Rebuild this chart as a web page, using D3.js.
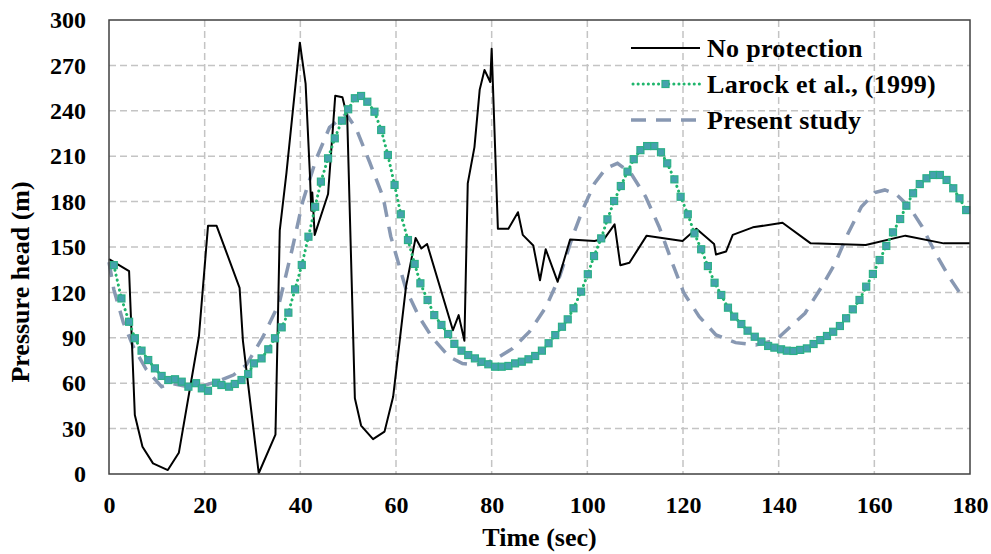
<!DOCTYPE html>
<html>
<head>
<meta charset="utf-8">
<script src="https://cdn.jsdelivr.net/npm/d3@7"></script>
<style>
  body { margin: 0; background: #fff; }
  text { font-family: "Liberation Serif", "Times New Roman", serif; font-weight: bold; fill: #000; }
</style>
</head>
<body>
<svg id="chart" width="991" height="554"></svg>
<script>
// axis ticks
var xTicks = [0, 20, 40, 60, 80, 100, 120, 140, 160, 180];
var yTicks = [0, 30, 60, 90, 120, 150, 180, 210, 240, 270, 300];

// No protection
var noProtTime = [0, 4.2, 5.4, 7, 9.2, 12.3, 14.6, 18.8, 20.7, 22.5, 27.3, 28, 31.3, 34.8, 35.7, 37.1,
  39.9, 41.1, 42.0, 42.3, 42.5, 43.0, 45.8, 47.3, 48.8, 49.8, 51.4, 52.7, 55.2, 57.6, 59.4, 62.1,
  64.1, 65.3, 66.5, 71.9, 73.1, 74.3, 75.0, 76.4, 77.5, 78.5, 79.7, 80.0, 81.3, 83.5, 85.5, 86.5,
  88.7, 90.1, 91.3, 93.8, 96.4, 101.5, 103.6, 105.7, 106.9, 108.8, 112.4, 119.9, 122.8, 126.5,
  126.9, 129, 130.4, 134.6, 140.8, 146.7, 158.2, 166.5, 174.5, 180];
var noProtHead = [142, 134, 39, 18, 7, 2.6, 14, 91, 164, 164, 123, 88, 0.5, 26, 161, 199,
  285, 258, 198, 174, 186, 158, 185, 250, 249, 236, 50, 32, 23, 28, 51, 124,
  156, 149, 152, 95, 105, 88, 192, 216, 254, 267, 259, 281, 162, 162, 173, 158,
  151, 128, 148.5, 127, 155, 154, 155.7, 165, 138, 139.6, 157.5, 154, 162, 152,
  145, 147, 158, 163, 166, 152.4, 151.3, 157.5, 152.4, 152.4];

// Larock et al., (1999)
var larockTime = [1.0, 2.6, 4.2, 5.4, 6.8, 8.2, 9.6, 11.0, 12.4, 13.8, 15.2, 16.6, 18.2, 19.4, 20.7,
  22.4, 23.5, 25.1, 26.3, 27.7, 29.1, 30.3, 31.9, 33.3, 34.7, 36.1, 37.5, 38.9, 40.3, 41.7, 43.1,
  44.3, 45.8, 47.2, 48.7, 50.0, 51.4, 52.7, 54.0, 55.5, 56.9, 58.3, 59.7, 61.0, 62.5, 63.9, 65.1,
  66.6, 68.0, 69.5, 70.9, 72.2, 73.7, 75.1, 76.5, 77.9, 79.3, 80.7, 82.1, 83.5, 84.9, 86.3, 87.7,
  89.1, 90.5, 91.9, 93.3, 94.7, 95.9, 97.1, 98.7, 100.1, 101.4, 102.9, 104.2, 105.6, 107.0, 108.4,
  109.7, 111.1, 112.5, 114.0, 115.4, 116.7, 118.2, 119.5, 121.0, 122.4, 123.8, 125.2, 126.6,
  128.0, 129.4, 130.7, 132.2, 133.5, 135.0, 136.4, 137.8, 139.1, 140.5, 141.7, 143.1, 144.5,
  145.9, 147.3, 148.7, 150.1, 151.4, 152.8, 154.1, 155.5, 156.9, 158.3, 159.7, 161.1, 162.5,
  163.9, 165.4, 166.7, 168.1, 169.5, 170.9, 172.3, 173.7, 175.1, 176.5, 177.8, 179.2];
var larockHead = [138, 116, 100.6, 89.7, 81.5, 75.3, 69.8, 64.8, 62.1, 62.6, 61, 57.7, 60, 56.6, 55,
  60.3, 58.8, 57.7, 59.5, 62.1, 66.1, 73.1, 76.4, 82.4, 89.7, 96.9, 106.6, 122, 138.1, 156.8, 176.6,
  193.2, 208.6, 221.8, 233.5, 241, 248.3, 249.8, 246, 239.4, 227.3, 210.8, 191, 171.6, 154.6, 138.8, 126,
  115, 105, 98.5, 92.5, 86, 81.5, 78.6, 76.4, 74.2, 72.5, 70.9, 70.9, 71.4, 73.1, 74.2, 75.8,
  78, 81.5, 86.4, 91.8, 97.3, 102.2, 109.5, 120.5, 132, 144, 155.7, 168.3, 180.4, 190.3, 199.8,
  208, 214, 216.7, 216.7, 212.6, 205.3, 194.7, 183.2, 171.6, 159, 148.5, 137.4, 126.4,
  118.3, 109.9, 104, 99.1, 94.7, 90.7, 87.4, 84.6, 83.5, 82.4, 81.5, 81.3, 82,
  83, 85.9, 88.5, 91.2, 94, 97.8, 102.9, 108.8, 115, 123.8, 132.2, 141.4, 150.7,
  159.7, 168.5, 177.3, 185.5, 191.6, 195.4, 197.6, 197.6, 194.3, 188.8, 182.2, 174.4];

// Present study
var presentTime = [0, 1, 3, 5.1, 7.8, 11, 13.1, 16, 19, 22.5, 26, 28.7, 32.2, 35.6, 38.4, 40.5,
  43.3, 46.1, 49.6, 51.7, 54.5, 57.3, 58.9, 62.1, 64.8, 67.6, 71.1, 73.9, 76.5, 78.8, 81.6, 84.4,
  87.9, 91.4, 94.2, 96.9, 99, 101.5, 103.9, 106.3, 109.1, 112.2, 115, 117.8, 120.2, 123.4, 126.9,
  131, 135.2, 139.4, 142.1, 145.5, 149, 151.8, 154.5, 157.3, 160.1, 162.2, 164.5, 167.3, 170,
  172.8, 175.6, 178.4];
var presentHead = [140, 122, 100, 84, 69, 57.7, 59.9, 58, 57.7, 61, 65.4, 72, 90.7, 113, 150, 180,
  208, 229, 238, 228, 206, 183, 157, 122, 104, 90, 77.5, 73, 72, 73, 77.5, 83,
  94, 110.6, 130.4, 156.8, 174.4, 192, 202, 205.3, 198.7, 183.2, 163.4, 139.2, 119.4, 104, 91.9,
  86.8, 85.2, 88.5, 96.3, 106.2, 123.8, 139.2, 159, 176.6, 185.9, 187.7, 185, 176.6, 163.4,
  145.8, 130.4, 117.2];

var legendNames = ["No protection", "Larock et al., (1999)", "Present study"];

var margin = { top: 20, right: 21, bottom: 80, left: 109 },
  width = 991 - margin.left - margin.right,
  height = 554 - margin.top - margin.bottom;

var x = d3.scaleLinear().domain([0, 180]).range([0, width]);
var y = d3.scaleLinear().domain([0, 300]).range([height, 0]);

var svg = d3.select("#chart")
  .append("g")
  .attr("transform", `translate(${margin.left}, ${margin.top})`);

// dashed grid
svg.append("g")
  .selectAll("line")
  .data(xTicks.slice(1, -1))
  .enter()
  .append("line")
  .attr("x1", (d) => x(d))
  .attr("x2", (d) => x(d))
  .attr("y1", 0)
  .attr("y2", height)
  .attr("stroke", "#c4c4c4")
  .attr("stroke-width", 1.5)
  .attr("stroke-dasharray", "7,4");
svg.append("g")
  .selectAll("line")
  .data(yTicks.slice(1, -1))
  .enter()
  .append("line")
  .attr("x1", 0)
  .attr("x2", width)
  .attr("y1", (d) => y(d))
  .attr("y2", (d) => y(d))
  .attr("stroke", "#c4c4c4")
  .attr("stroke-width", 1.5)
  .attr("stroke-dasharray", "7,4");

// axes (labels only, frame drawn below)
var xAxis = svg.append("g")
  .attr("transform", "translate(0," + height + ")")
  .call(d3.axisBottom(x).tickValues(xTicks).tickSize(0).tickPadding(22));
var yAxis = svg.append("g")
  .call(d3.axisLeft(y).tickValues(yTicks).tickSize(0).tickPadding(23));
[xAxis, yAxis].forEach(function (a) {
  a.select(".domain").remove();
  a.selectAll("text")
    .style("font-family", '"Liberation Serif", serif')
    .style("font-weight", "bold")
    .style("font-size", "24px")
    .attr("fill", "#000");
});

var lineGenerator = d3.line()
  .x((d) => x(d[0]))
  .y((d) => y(d[1]));

var presentData = d3.zip(presentTime, presentHead);
var larockData = d3.zip(larockTime, larockHead);
var noProtData = d3.zip(noProtTime, noProtHead);

svg.append("path")
  .datum(presentData)
  .attr("fill", "none")
  .attr("stroke", "#8898b2")
  .attr("stroke-width", 3.5)
  .attr("stroke-dasharray", "15,10")
  .attr("d", lineGenerator);

svg.append("path")
  .datum(noProtData)
  .attr("fill", "none")
  .attr("stroke", "#000")
  .attr("stroke-width", 2)
  .attr("stroke-linejoin", "round")
  .attr("d", lineGenerator);

svg.append("path")
  .datum(larockData)
  .attr("fill", "none")
  .attr("stroke", "#1fb56c")
  .attr("stroke-width", 3)
  .attr("stroke-linecap", "round")
  .attr("stroke-dasharray", "0.1,5")
  .attr("d", lineGenerator);

svg.append("g")
  .selectAll("rect")
  .data(larockData)
  .enter()
  .append("rect")
  .attr("x", (d) => x(d[0]) - 3.5)
  .attr("y", (d) => y(d[1]) - 3.5)
  .attr("width", 7)
  .attr("height", 7)
  .attr("fill", "#45a2ae")
  .attr("stroke", "#2bb087")
  .attr("stroke-width", 1.2);

// frame
svg.append("rect")
  .attr("width", width)
  .attr("height", height)
  .attr("fill", "none")
  .attr("stroke", "#404040")
  .attr("stroke-width", 1.5);

// legend
var legend = svg.append("g").attr("transform", "translate(522, 0)");
var rowY = [28, 64, 100];
legend.append("line")
  .attr("x1", 0).attr("x2", 69).attr("y1", rowY[0]).attr("y2", rowY[0])
  .attr("stroke", "#000").attr("stroke-width", 2);
legend.append("line")
  .attr("x1", 2).attr("x2", 69).attr("y1", rowY[1]).attr("y2", rowY[1])
  .attr("stroke", "#1fb56c").attr("stroke-width", 3)
  .attr("stroke-linecap", "round").attr("stroke-dasharray", "0.1,5");
legend.append("rect")
  .attr("x", 31).attr("y", rowY[1] - 3.5).attr("width", 7).attr("height", 7)
  .attr("fill", "#45a2ae").attr("stroke", "#2bb087").attr("stroke-width", 1.2);
legend.append("line")
  .attr("x1", 0).attr("x2", 69).attr("y1", rowY[2]).attr("y2", rowY[2])
  .attr("stroke", "#8898b2").attr("stroke-width", 3.5).attr("stroke-dasharray", "15,10");
legend.selectAll("text.leg")
  .data(legendNames)
  .enter()
  .append("text")
  .classed("leg", true)
  .attr("x", 76)
  .attr("y", (d, i) => rowY[i] + 9)
  .style("font-size", "26px")
  .style("letter-spacing", "0.3px")
  .text((d) => d);

// axis titles
d3.select("#chart").append("text")
  .attr("x", margin.left + width / 2)
  .attr("y", 546)
  .attr("text-anchor", "middle")
  .style("font-size", "26px")
  .text("Time (sec)");
d3.select("#chart").append("text")
  .attr("transform", "translate(29, 282) rotate(-90)")
  .attr("text-anchor", "middle")
  .style("font-size", "26px")
  .text("Pressure head (m)");
</script>
</body>
</html>
